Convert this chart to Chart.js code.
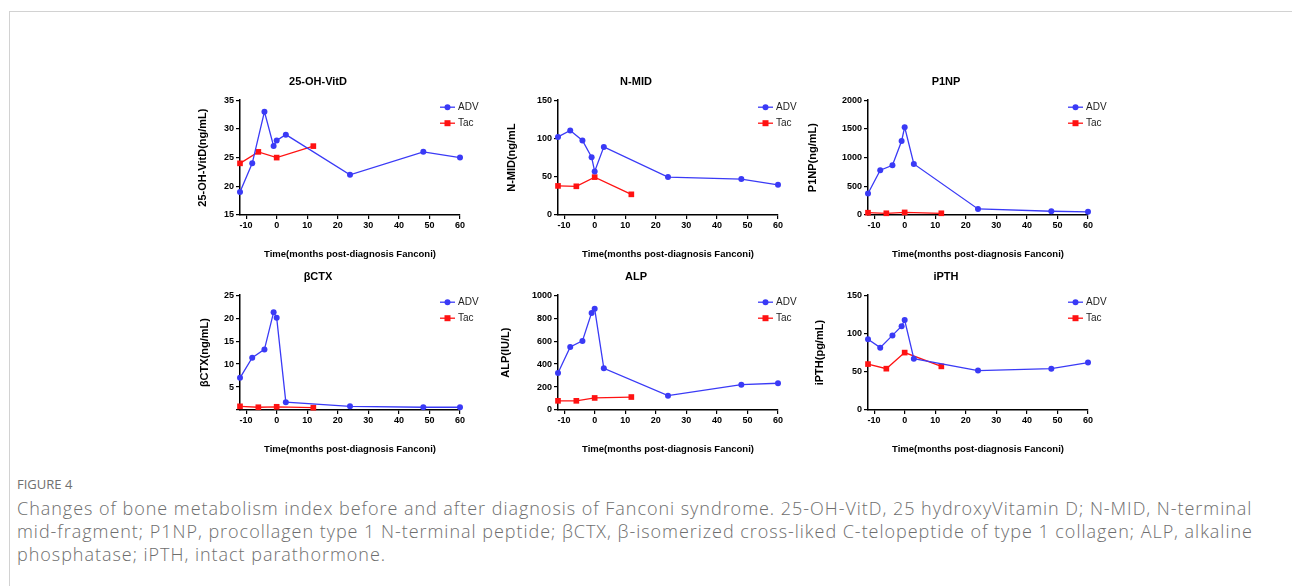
<!DOCTYPE html>
<html>
<head>
<meta charset="utf-8">
<title>Figure 4</title>
<script src="https://cdn.jsdelivr.net/npm/chart.js@4.4.1/dist/chart.umd.min.js"></script>
<style>
  body { margin: 0; background: #fff; width: 1292px; height: 586px; overflow: hidden; position: relative; }
  .frame { position: absolute; left: 9px; top: 11px; right: -2px; bottom: -2px; border-left: 1px solid #d2d2d2; border-top: 1px solid #d2d2d2; }
  .panel { position: absolute; }
  .fig { position: absolute; left: 17px; top: 475px; font: 13px/18px "Open Sans", sans-serif; color: #707070; }
  .caption { position: absolute; left: 17px; top: 497px; font: 300 18px/23px "Open Sans", sans-serif; letter-spacing: 0.97px; color: #6e6e6e; white-space: nowrap; }
</style>
</head>
<body>
<div class="frame"></div>
<canvas id="c0" class="panel"></canvas>
<canvas id="c1" class="panel"></canvas>
<canvas id="c2" class="panel"></canvas>
<canvas id="c3" class="panel"></canvas>
<canvas id="c4" class="panel"></canvas>
<canvas id="c5" class="panel"></canvas>
<div class="fig">FIGURE 4</div>
<div class="caption">Changes of bone metabolism index before and after diagnosis of Fanconi syndrome. 25-OH-VitD, 25 hydroxyVitamin D; N-MID, N-terminal<br>mid-fragment; P1NP, procollagen type 1 N-terminal peptide; βCTX, β-isomerized cross-liked C-telopeptide of type 1 collagen; ALP, alkaline<br>phosphatase; iPTH, intact parathormone.</div>
<script>
// sampling times (months post-diagnosis)
const monthsADV = [-12, -8, -4, -1, 0, 3, 24, 48, 60];
const monthsTac = [-12, -6, 0, 12];

const vitdADV = [19, 24, 33, 27, 28, 29, 22, 26, 25];
const vitdTac = [24, 26, 25, 27];
const nmidADV = [102, 110.5, 97.5, 75.5, 57, 89, 49.5, 47, 39.5];
const nmidTac = [38, 37.5, 49.5, 27];
const p1npADV = [375, 780, 865, 1290, 1530, 890, 105, 65, 55];
const p1npTac = [40, 30, 45, 30];
const ctxADV = [7, 11.4, 13.2, 21.3, 20.1, 1.7, 0.8, 0.6, 0.6];
const ctxTac = [0.8, 0.6, 0.7, 0.5];
const alpADV = [323, 549, 602, 846, 881, 363, 125, 221, 233];
const alpTac = [80, 80, 105, 113];
const ipthADV = [92.5, 81.5, 97.5, 109.5, 117.5, 67, 51.5, 54, 62];
const ipthTac = [60, 54, 75, 57];

const seriesNames = ['ADV', 'Tac'];
const panelTitles = ['25-OH-VitD', 'N-MID', 'P1NP', 'βCTX', 'ALP', 'iPTH'];
const yTitles = ['25-OH-VitD(ng/mL)', 'N-MID(ng/mL', 'P1NP(ng/mL)', 'βCTX(ng/mL)', 'ALP(IU/L)', 'iPTH(pg/mL)'];
const xTitle = 'Time(months post-diagnosis Fanconi)';
const yMin = [15, 0, 0, 0, 0, 0];
const yMax = [35, 150, 2000, 25, 1000, 150];
const yStep = [5, 50, 500, 5, 200, 50];
const hideZeroLabel = [false, false, false, true, false, false];
const xMin = -12, xMax = 60, xStep = 10;

const advSeries = [vitdADV, nmidADV, p1npADV, ctxADV, alpADV, ipthADV];
const tacSeries = [vitdTac, nmidTac, p1npTac, ctxTac, alpTac, ipthTac];

// layout (px)
const colLeft = [176, 494, 804];
const rowTop = [71, 266];
const canvasW = 348, canvasH = 194;
const yAxisW = 64, xAxisH = 50;
const yTitleGap = [20.4, 11.4, 2.4, 22.4, 5.4, 9.4];

const BLUE = '#3a3af6';
const RED = '#ff1212';
const FONT = '"Liberation Sans", Arial, sans-serif';
Chart.defaults.font.family = FONT;
Chart.defaults.color = '#000';

// legend drawn inside the plot, top-right, Prism style
const insideLegend = {
  id: 'insideLegend',
  afterDraw(chart) {
    const {ctx, chartArea} = chart;
    chart.data.datasets.forEach((ds, i) => {
      const y = chartArea.top + 7 + i * 16;
      const x0 = chartArea.right - 20;
      ctx.save();
      ctx.strokeStyle = ds.borderColor;
      ctx.fillStyle = ds.borderColor;
      ctx.lineWidth = 1.3;
      ctx.beginPath();
      ctx.moveTo(x0, y);
      ctx.lineTo(x0 + 15, y);
      ctx.stroke();
      if (ds.pointStyle === 'rect') {
        ctx.fillRect(x0 + 4.5, y - 3, 6, 6);
      } else {
        ctx.beginPath();
        ctx.arc(x0 + 7.5, y, 3, 0, Math.PI * 2);
        ctx.fill();
      }
      ctx.fillStyle = '#222';
      ctx.font = '10px ' + FONT;
      ctx.textBaseline = 'middle';
      ctx.fillText(ds.label, x0 + 18, y + 0.5);
      ctx.restore();
    });
  }
};

function toPoints(xs, ys) {
  return xs.map((x, i) => ({x: x, y: ys[i]}));
}

for (let p = 0; p < 6; p++) {
  const cv = document.getElementById('c' + p);
  cv.width = canvasW;
  cv.height = canvasH;
  cv.style.width = canvasW + 'px';
  cv.style.height = canvasH + 'px';
  cv.style.left = colLeft[p % 3] + 'px';
  cv.style.top = rowTop[Math.floor(p / 3)] + 'px';

  new Chart(cv, {
    type: 'line',
    data: {
      datasets: [
        {
          label: seriesNames[0],
          data: toPoints(monthsADV, advSeries[p]),
          borderColor: BLUE,
          backgroundColor: BLUE,
          borderWidth: 1.3,
          pointStyle: 'circle',
          pointRadius: 3,
          pointBorderWidth: 0,
          clip: false
        },
        {
          label: seriesNames[1],
          data: toPoints(monthsTac, tacSeries[p]),
          borderColor: RED,
          backgroundColor: RED,
          borderWidth: 1.3,
          pointStyle: 'rect',
          pointRadius: 4,
          pointBorderWidth: 0,
          clip: false
        }
      ]
    },
    options: {
      responsive: false,
      animation: false,
      layout: {padding: {left: 0, right: yAxisW, top: 0, bottom: 0}},
      plugins: {
        legend: {display: false},
        tooltip: {enabled: false},
        title: {
          display: true,
          text: panelTitles[p],
          color: '#000',
          font: {size: 11, weight: 'bold'},
          padding: {top: 4, bottom: 12}
        }
      },
      scales: {
        x: {
          type: 'linear',
          min: xMin,
          max: xMax,
          afterFit(s) { s.height = xAxisH; },
          ticks: {
            stepSize: xStep,
            includeBounds: false,
            padding: 1,
            maxRotation: 0,
            autoSkip: false,
            color: '#000',
            font: {size: 9, weight: 'bold'}
          },
          grid: {drawOnChartArea: false, drawTicks: true, tickLength: 4, color: '#000', lineWidth: 1.2},
          border: {color: '#000', width: 1.5},
          title: {
            display: true,
            text: xTitle,
            color: '#000',
            font: {size: 9.5, weight: 'bold'},
            padding: {top: 0, bottom: 5.3}
          }
        },
        y: {
          type: 'linear',
          min: yMin[p],
          max: yMax[p],
          afterFit(s) { s.width = yAxisW; },
          ticks: {
            stepSize: yStep[p],
            padding: 2,
            color: '#000',
            font: {size: 9, weight: 'bold'},
            callback: (v) => (hideZeroLabel[p] && v === 0) ? '' : v
          },
          grid: {drawOnChartArea: false, drawTicks: true, tickLength: 4, color: '#000', lineWidth: 1.2},
          border: {color: '#000', width: 1.5},
          title: {
            display: true,
            text: yTitles[p],
            color: '#000',
            font: {size: 11, weight: 'bold'},
            padding: {top: yTitleGap[p], bottom: 0}
          }
        }
      }
    },
    plugins: [insideLegend]
  });
}
</script>
</body>
</html>
